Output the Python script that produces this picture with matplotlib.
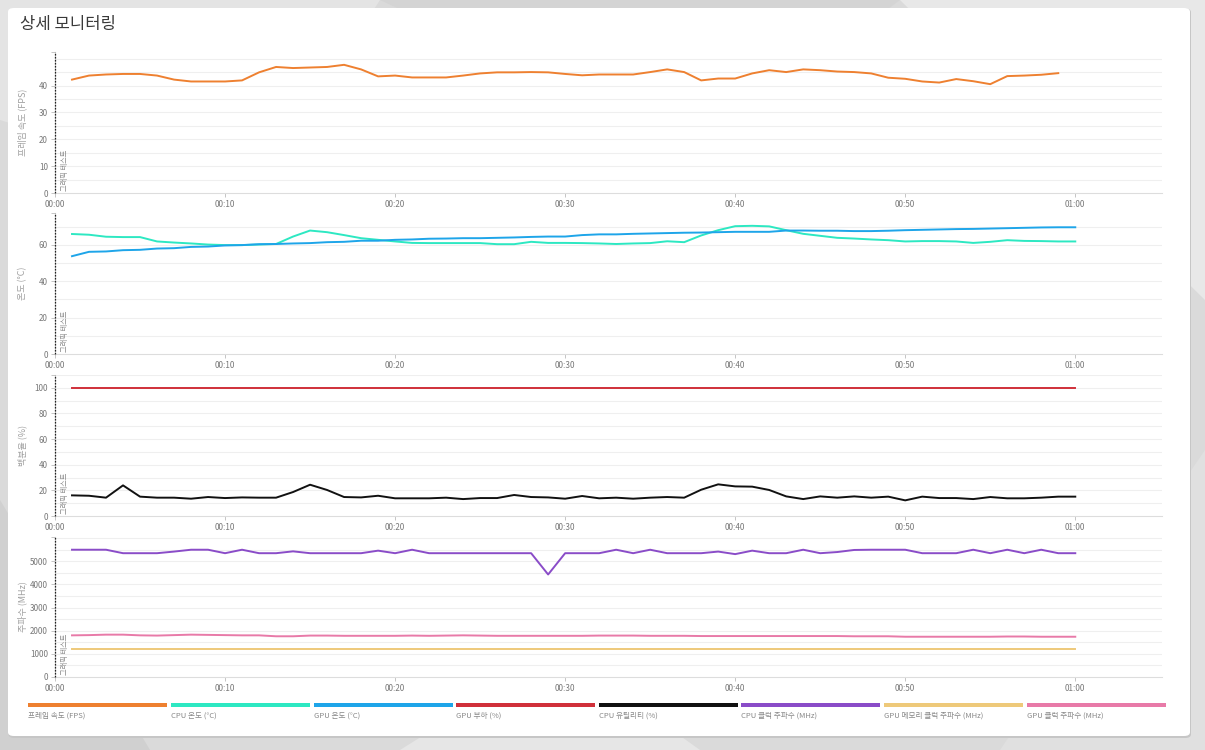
import matplotlib
matplotlib.use("Agg")
import matplotlib.pyplot as plt
import numpy as np
from matplotlib.patches import FancyBboxPatch, Polygon, Rectangle
from matplotlib.ticker import FuncFormatter

plt.rcParams['font.family'] = ['Noto Sans CJK KR', 'DejaVu Sans']

# ---------------- data ----------------
seconds = np.arange(1, 61)

fps = [42.2, 43.7, 44.1, 44.3, 44.3, 43.7, 42.2, 41.5, 41.5, 41.5,
       41.9, 44.9, 46.9, 46.5, 46.7, 46.9, 47.7, 46.0, 43.4, 43.7,
       43.0, 43.0, 43.0, 43.7, 44.5, 44.9, 44.9, 45.0, 44.9, 44.3,
       43.8, 44.1, 44.1, 44.1, 45.0, 46.0, 45.0, 41.9, 42.6, 42.6,
       44.5, 45.7, 45.0, 46.0, 45.7, 45.2, 45.0, 44.5, 42.9, 42.5,
       41.5, 41.1, 42.4, 41.6, 40.5, 43.5, 43.7, 44.0, 44.6]

cpu_temp = [66.0, 65.6, 64.5, 64.3, 64.3, 61.9, 61.3, 60.8, 60.2, 59.9,
            59.9, 60.2, 60.5, 64.6, 67.9, 67.0, 65.4, 63.7, 62.8, 61.9,
            61.1, 61.0, 61.0, 61.0, 61.0, 60.4, 60.4, 61.7, 61.1, 61.1,
            61.0, 60.8, 60.5, 60.8, 61.0, 62.0, 61.5, 65.2, 68.1, 70.3,
            70.5, 70.2, 68.1, 66.1, 65.0, 63.9, 63.5, 63.0, 62.6, 61.9,
            62.1, 62.1, 61.9, 61.1, 61.7, 62.6, 62.2, 62.1, 61.9, 61.9]

gpu_temp = [53.8, 56.2, 56.4, 57.1, 57.3, 58.0, 58.2, 58.9, 59.1, 59.7,
            59.9, 60.4, 60.5, 60.8, 61.0, 61.5, 61.7, 62.3, 62.3, 62.8,
            63.0, 63.4, 63.5, 63.7, 63.7, 63.9, 64.1, 64.4, 64.6, 64.6,
            65.4, 65.8, 65.8, 66.1, 66.3, 66.5, 66.7, 66.8, 67.0, 67.2,
            67.2, 67.2, 67.9, 67.9, 67.8, 67.8, 67.6, 67.6, 67.8, 68.1,
            68.3, 68.5, 68.7, 68.8, 69.0, 69.2, 69.4, 69.6, 69.7, 69.7]

gpu_load = [100] * 60

cpu_util = [16.1, 15.8, 14.3, 23.9, 15.1, 14.3, 14.3, 13.5, 14.8, 14.0,
            14.5, 14.3, 14.3, 18.7, 24.4, 20.3, 14.8, 14.5, 15.8, 13.8,
            13.8, 13.8, 14.3, 13.2, 14.0, 14.0, 16.4, 14.8, 14.5, 13.5,
            15.6, 13.8, 14.3, 13.5, 14.3, 14.8, 14.3, 20.5, 24.7, 23.1,
            22.9, 20.3, 15.3, 13.2, 15.3, 14.3, 15.3, 14.3, 15.1, 12.2,
            15.1, 14.0, 14.0, 13.2, 14.8, 13.8, 13.8, 14.3, 15.1, 15.1]

cpu_clock = [5500, 5500, 5500, 5350, 5350, 5350, 5420, 5500, 5500, 5350,
             5500, 5350, 5350, 5430, 5350, 5350, 5350, 5350, 5460, 5350,
             5500, 5350, 5350, 5350, 5350, 5350, 5350, 5350, 4430, 5350,
             5350, 5350, 5500, 5350, 5500, 5350, 5350, 5350, 5420, 5310,
             5460, 5350, 5350, 5500, 5350, 5400, 5490, 5500, 5500, 5500,
             5350, 5350, 5350, 5500, 5350, 5500, 5350, 5500, 5350, 5350]

gpu_mem_clock = [1200] * 60

gpu_clock = [1800, 1810, 1830, 1830, 1800, 1790, 1810, 1830, 1820, 1810,
             1800, 1800, 1760, 1760, 1790, 1790, 1780, 1780, 1780, 1780,
             1790, 1780, 1790, 1800, 1790, 1780, 1780, 1780, 1780, 1780,
             1780, 1790, 1790, 1790, 1780, 1780, 1780, 1770, 1770, 1770,
             1770, 1770, 1770, 1770, 1770, 1770, 1760, 1760, 1760, 1740,
             1740, 1740, 1740, 1740, 1740, 1750, 1750, 1740, 1740, 1740]

series_labels = ["프레임 속도 (FPS)", "CPU 온도 (°C)", "GPU 온도 (°C)", "GPU 부하 (%)",
                 "CPU 유틸리티 (%)", "CPU 클럭 주파수 (MHz)", "GPU 메모리 클럭 주파수 (MHz)",
                 "GPU 클럭 주파수 (MHz)"]
series_colors = ["#ee8030", "#2de8c2", "#1ea5e9", "#d0303a",
                 "#111111", "#8a4cc8", "#eec97a", "#e87aa8"]

axis_titles = ["프레임 속도 (FPS)", "온도 (°C)", "백분율 (%)", "주파수 (MHz)"]
y_tick_values = [
    [0, 10, 20, 30, 40],
    [0, 20, 40, 60],
    [0, 20, 40, 60, 80, 100],
    [0, 1000, 2000, 3000, 4000, 5000],
]
marker_label = "그래픽 테스트"
chart_title = "상세 모니터링"
time_ticks = [0, 10, 20, 30, 40, 50, 60]

# ---------------- figure ----------------
W, H = 1205, 750
fig = plt.figure(figsize=(W / 100, H / 100), dpi=100)
fig.patch.set_facecolor("#dadada")

def fx(x):
    return x / W

def fy(y):
    return 1 - y / H

# background polygons
bg_polys = [
    [(0, 0), (380, 0), (250, 200), (0, 120)],
    [(380, 0), (900, 0), (700, 150)],
    [(900, 0), (1205, 0), (1205, 300)],
    [(0, 500), (150, 750), (0, 750)],
    [(400, 750), (560, 650), (700, 750)],
    [(1205, 450), (1205, 750), (1000, 750)],
]
bg_cols = ["#e4e4e4", "#d4d4d4", "#e8e8e8", "#d0d0d0", "#e6e6e6", "#e0e0e0"]
for pts, c in zip(bg_polys, bg_cols):
    fig.patches.append(Polygon([(fx(a), fy(b)) for a, b in pts], closed=True,
                               transform=fig.transFigure, facecolor=c,
                               edgecolor="none", zorder=0))

# card shadow + card
fig.patches.append(FancyBboxPatch((fx(8.5), fy(738)), fx(1191) - fx(8.5), fy(8.5) - fy(738),
                                  boxstyle="round,pad=0,rounding_size=0.005",
                                  transform=fig.transFigure, facecolor="#c6c6c6",
                                  edgecolor="none", zorder=1))
fig.patches.append(FancyBboxPatch((fx(8), fy(736)), fx(1190) - fx(8), fy(8) - fy(736),
                                  boxstyle="round,pad=0,rounding_size=0.005",
                                  transform=fig.transFigure, facecolor="white",
                                  edgecolor="none", zorder=2))

fig.text(fx(20), fy(25), chart_title, fontsize=12, color="#3a3a3a",
         ha="left", va="center", zorder=5)

panels = [
    (52, 193),
    (213, 354),
    (375, 516),
    (537, 677),
]
x_left, x_right = 55, 1162

panel_series = [
    [(fps, 0)],
    [(cpu_temp, 1), (gpu_temp, 2)],
    [(gpu_load, 3), (cpu_util, 4)],
    [(cpu_clock, 5), (gpu_mem_clock, 6), (gpu_clock, 7)],
]
grid_steps = [5, 10, 10, 500]

def fmt_time(v, pos):
    v = int(round(v))
    return f"{v // 60:02d}:{v % 60:02d}"

for i, (top, bot) in enumerate(panels):
    ax = fig.add_axes([fx(x_left), fy(bot), fx(x_right) - fx(x_left), fy(top) - fy(bot)])
    ax.set_zorder(3)
    ax.patch.set_alpha(0)
    ymax = 0
    for data, ci in panel_series[i]:
        xs = seconds[:len(data)]
        ax.plot(xs, data, color=series_colors[ci], lw=1.4, solid_joinstyle="round", zorder=4)
        ymax = max(ymax, max(data))
    top_val = ymax * 1.1
    ax.set_xlim(0, 65.1)
    ax.set_ylim(0, top_val)
    # horizontal grid lines
    g = grid_steps[i]
    for gv in np.arange(g, top_val + 1e-9, g):
        ax.axhline(gv, color="#efefef", lw=0.8, zorder=0)
    ticks = list(y_tick_values[i]) + [top_val]
    ax.set_yticks(ticks)
    ax.set_yticklabels([str(v) for v in y_tick_values[i]] + [""])
    ax.set_xticks(time_ticks)
    ax.xaxis.set_major_formatter(FuncFormatter(fmt_time))
    for s in ["top", "right"]:
        ax.spines[s].set_visible(False)
    ax.spines["left"].set_color("#bbbbbb")
    ax.spines["bottom"].set_color("#dddddd")
    ax.tick_params(axis="both", which="major", labelsize=5.8, colors="#bbbbbb",
                   labelcolor="#777777", length=3, width=0.6, pad=2)
    ax.set_ylabel(axis_titles[i], fontsize=6.5, color="#a0a0a0")
    ax.yaxis.set_label_coords(-0.0255, 0.5)
    # graphics test marker
    ax.axvline(0, color="#222222", lw=0.9, ls=(0, (1.2, 1.2)), zorder=5, clip_on=False)
    ax.text(0.35, ymax * 0.012, marker_label, rotation=90, fontsize=5.2, color="#888888",
            ha="left", va="bottom", zorder=5)

# legend bars
leg_x = [28, 171, 314, 456, 599, 741, 884, 1027]
bar_w = 139
for x0, lab, col in zip(leg_x, series_labels, series_colors):
    fig.patches.append(Rectangle((fx(x0), fy(707)), fx(bar_w), fy(703) - fy(707),
                                 transform=fig.transFigure, facecolor=col,
                                 edgecolor="none", zorder=5))
    fig.text(fx(x0), fy(716), lab, fontsize=5.5, color="#888888",
             ha="left", va="center", zorder=5)

fig.savefig("out.png", dpi=100, facecolor=fig.get_facecolor())
